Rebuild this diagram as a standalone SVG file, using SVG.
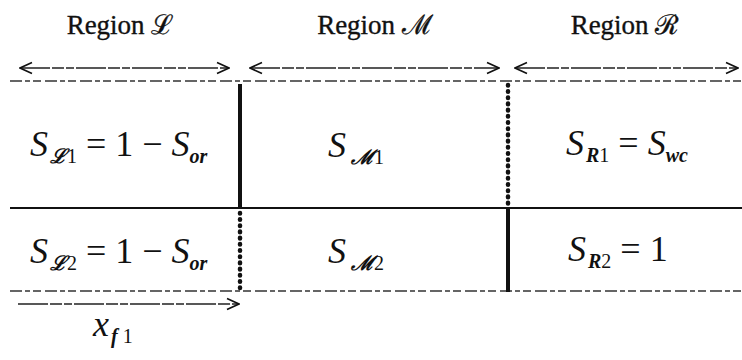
<svg xmlns="http://www.w3.org/2000/svg" width="742" height="360" viewBox="0 0 742 360">
  <style>
    .title { font-family: "Liberation Serif", "DejaVu Serif", serif; font-size: 27px; fill: #111; stroke: #111; stroke-width: 0.35; }
    .math { font-family: "Liberation Serif", "DejaVu Serif", serif; font-size: 36px; fill: #111; }
    .it { font-style: italic; }
    .sub { font-family: "Liberation Serif", "DejaVu Serif", serif; font-size: 20px; font-style: italic; font-weight: bold; fill: #111; }
    .subn { font-family: "Liberation Serif", "DejaVu Serif", serif; font-size: 20px; font-style: normal; font-weight: normal; fill: #111; }
    .dash { stroke: #333; stroke-width: 1.3; stroke-dasharray: 12 3 5 3 8 4; fill: none; }
    .arrow { stroke: #222; stroke-width: 1.4; stroke-dasharray: 30 2 12 2 8 2; fill: none; }
    .solid { stroke: #111; stroke-width: 1.8; fill: none; }
    .thick { stroke: #111; stroke-width: 4; fill: none; }
    .dots { stroke: #111; stroke-width: 4.5; stroke-linecap: round; stroke-dasharray: 0.6 5.6; fill: none; }
  </style>
  <defs>
    <marker id="head" viewBox="0 0 14 14" refX="13" refY="7" markerWidth="14" markerHeight="14" markerUnits="userSpaceOnUse" orient="auto-start-reverse">
      <path d="M1,1.5 L13,7 L1,12.5" fill="none" stroke="#111" stroke-width="1.6"/>
    </marker>
  </defs>
  <rect width="742" height="360" fill="#fff"/>

  <!-- region titles -->
  <g id="title-L"><text class="title" x="120" y="34" text-anchor="middle">Region ℒ</text></g>
  <g id="title-M"><text class="title" x="375" y="34" text-anchor="middle">Region ℳ</text></g>
  <g id="title-R"><text class="title" x="625" y="34" text-anchor="middle">Region ℛ</text></g>

  <g id="connectors">
    <!-- region extent arrows -->
    <line class="arrow" x1="20" y1="68" x2="229" y2="68" marker-start="url(#head)" marker-end="url(#head)"/>
    <line class="arrow" x1="250" y1="68" x2="499" y2="68" marker-start="url(#head)" marker-end="url(#head)"/>
    <line class="arrow" x1="515" y1="68" x2="738" y2="68" marker-start="url(#head)" marker-end="url(#head)"/>
    <!-- front position arrow -->
    <line class="arrow" x1="18" y1="304" x2="239" y2="304" marker-end="url(#head)"/>

    <!-- layer boundaries -->
    <line class="dash" x1="10" y1="81" x2="742" y2="81"/>
    <line class="solid" x1="10" y1="208" x2="742" y2="208"/>
    <line class="dash" x1="10" y1="291" x2="742" y2="291"/>

    <!-- region boundaries -->
    <line class="thick" x1="240" y1="84" x2="240" y2="208"/>
    <line class="dots" x1="240" y1="213" x2="240" y2="290"/>
    <line class="dots" x1="508" y1="85" x2="508" y2="204"/>
    <line class="thick" x1="508" y1="208" x2="508" y2="292"/>
  </g>

  <!-- saturation cells -->
  <g id="cell-L1">
    <text class="math" x="30" y="156"><tspan class="it">S</tspan><tspan class="sub" font-size="16" dy="7" dx="2">ℒ</tspan><tspan class="subn">1</tspan><tspan dy="-7"> = 1 − </tspan><tspan class="it">S</tspan><tspan class="sub" dy="7">or</tspan></text>
  </g>
  <g id="cell-L2">
    <text class="math" x="30" y="263"><tspan class="it">S</tspan><tspan class="sub" font-size="16" dy="7" dx="2">ℒ</tspan><tspan class="subn">2</tspan><tspan dy="-7"> = 1 − </tspan><tspan class="it">S</tspan><tspan class="sub" dy="7">or</tspan></text>
  </g>
  <g id="cell-M1">
    <text class="math" x="328" y="157"><tspan class="it">S</tspan><tspan class="sub" font-size="16" dy="7" dx="5">ℳ</tspan><tspan class="subn">1</tspan></text>
  </g>
  <g id="cell-M2">
    <text class="math" x="328" y="263"><tspan class="it">S</tspan><tspan class="sub" font-size="16" dy="7" dx="5">ℳ</tspan><tspan class="subn">2</tspan></text>
  </g>
  <g id="cell-R1">
    <text class="math" x="566" y="155"><tspan class="it">S</tspan><tspan class="sub" dy="7" dx="2">R</tspan><tspan class="subn">1</tspan><tspan dy="-7"> = </tspan><tspan class="it">S</tspan><tspan class="sub" dy="7">wc</tspan></text>
  </g>
  <g id="cell-R2">
    <text class="math" x="568" y="261"><tspan class="it">S</tspan><tspan class="sub" dy="7" dx="2">R</tspan><tspan class="subn">2</tspan><tspan dy="-7"> = 1</tspan></text>
  </g>

  <!-- front position label -->
  <g id="label-xf1">
    <text class="math" x="93" y="336"><tspan class="it">x</tspan><tspan class="sub" font-weight="normal" dy="7" dx="2">f</tspan><tspan class="subn"> 1</tspan></text>
  </g>
</svg>
